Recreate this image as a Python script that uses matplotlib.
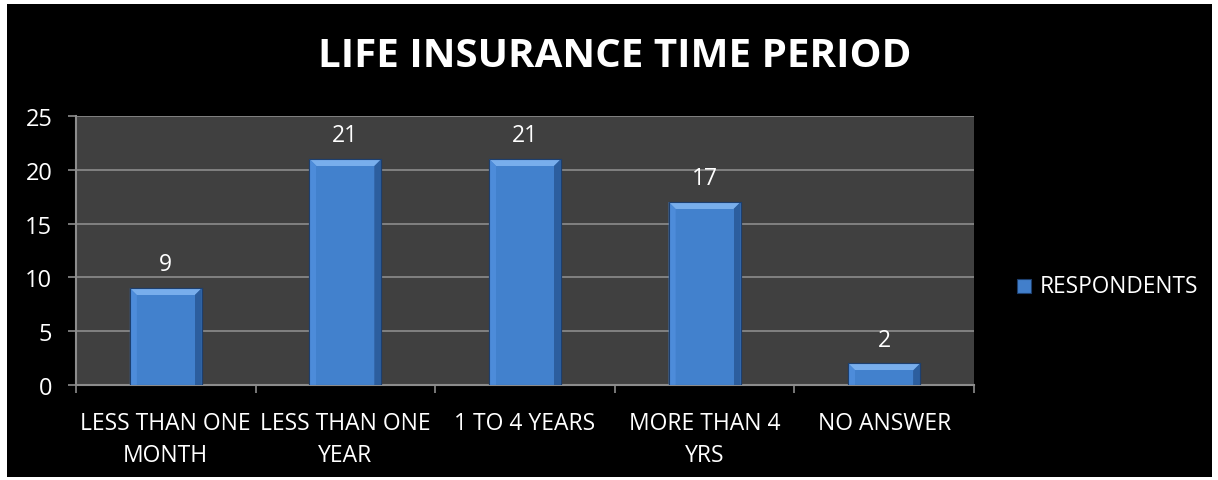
import matplotlib
matplotlib.use("Agg")
import matplotlib.pyplot as plt
from matplotlib.patches import Rectangle, Polygon

categories = ["LESS THAN ONE\nMONTH", "LESS THAN ONE\nYEAR", "1 TO 4 YEARS", "MORE THAN 4\nYRS", "NO ANSWER"]
respondents = [9, 21, 21, 17, 2]
yticks = [0, 5, 10, 15, 20, 25]
series_name = "RESPONDENTS"
title = "LIFE INSURANCE TIME PERIOD"

plt.rcParams["font.family"] = ["Open Sans", "DejaVu Sans"]

W, H = 1218, 481
fig = plt.figure(figsize=(W / 100, H / 100), dpi=100, facecolor="white")
fig.patches.append(Rectangle((7 / W, 3 / H), 1205 / W, 473 / H, transform=fig.transFigure,
                             facecolor="black", edgecolor="none", zorder=-10))

left, right, bottom, top = 76 / W, 974 / W, 1 - 386 / H, 1 - 117 / H
ax = fig.add_axes([left, bottom, right - left, top - bottom])
ax.set_facecolor("#404040")
ax.set_xlim(-0.5, len(categories) - 0.5)
ax.set_ylim(0, 25)

grid_c = "#8c8c8c"
for y in yticks[1:]:
    ax.axhline(y, color=grid_c, lw=1.2, zorder=1)
for s in ["top", "right"]:
    ax.spines[s].set_visible(False)
for s in ["left", "bottom"]:
    ax.spines[s].set_color(grid_c)
    ax.spines[s].set_linewidth(1.5)

ax.set_yticks(yticks)
ax.set_yticklabels([str(v) for v in yticks], color="white", fontsize=17)
ax.set_xticks([i for i in range(len(categories))])
ax.set_xticklabels(categories, color="white", fontsize=16.5, linespacing=1.4)
ax.tick_params(axis="y", length=6, width=1.2, color=grid_c, pad=11)
ax.tick_params(axis="x", length=0, pad=19)
# category boundary ticks
ax.set_xticks([i - 0.5 for i in range(len(categories) + 1)], minor=True)
ax.tick_params(axis="x", which="minor", length=6, width=1.2, color=grid_c)

# bevel sizes converted from pixels to data units
px_x = (right - left) * W / len(categories)
px_y = (top - bottom) * H / 25
bx = 7 / px_x
by = 7 / px_y
bw = 0.4

for i, v in enumerate(respondents):
    x0, x1 = i - bw / 2, i + bw / 2
    ax.add_patch(Rectangle((x0, 0), bw, v, facecolor="#427fcb", edgecolor="#1d3f6e", lw=0.8, zorder=3))
    ix0, ix1 = x0 + bx, x1 - bx
    iy1 = max(v - by, v * 0.5)
    # top bevel highlight
    ax.add_patch(Polygon([(x0, v), (x1, v), (ix1, iy1), (ix0, iy1)], closed=True,
                         facecolor="#78aeec", edgecolor="none", zorder=4))
    # left / right bevels
    ax.add_patch(Polygon([(x0, 0), (x0, v), (ix0, iy1), (ix0, 0)], closed=True,
                         facecolor="#4d8cda", edgecolor="none", zorder=4))
    ax.add_patch(Polygon([(x1, 0), (x1, v), (ix1, iy1), (ix1, 0)], closed=True,
                         facecolor="#2c5e9e", edgecolor="none", zorder=4))
    # inner face
    ax.add_patch(Rectangle((ix0, 0), ix1 - ix0, iy1, facecolor="#4281cd", edgecolor="none", zorder=4))
    ax.add_patch(Rectangle((x0, 0), bw, v, facecolor="none", edgecolor="#1d3f6e", lw=0.8, zorder=5))
    ax.text(i, v + 1.1, str(v), ha="center", va="bottom", color="white", fontsize=16.5, zorder=6)

fig.text(615 / W, 1 - 57 / H, title, ha="center", va="center", color="white",
         fontsize=29, fontweight="bold")

# legend
lx, ly = 1017 / W, 1 - 294 / H
fig.patches.append(Rectangle((lx, ly), 14 / W, 14 / H, transform=fig.transFigure,
                             facecolor="#427fcb", edgecolor="#1d3f6e", lw=0.8))
fig.text(1040 / W, 1 - 287 / H, series_name, ha="left", va="center", color="white", fontsize=16.3)

fig.savefig("out.png", dpi=100, facecolor="white")
